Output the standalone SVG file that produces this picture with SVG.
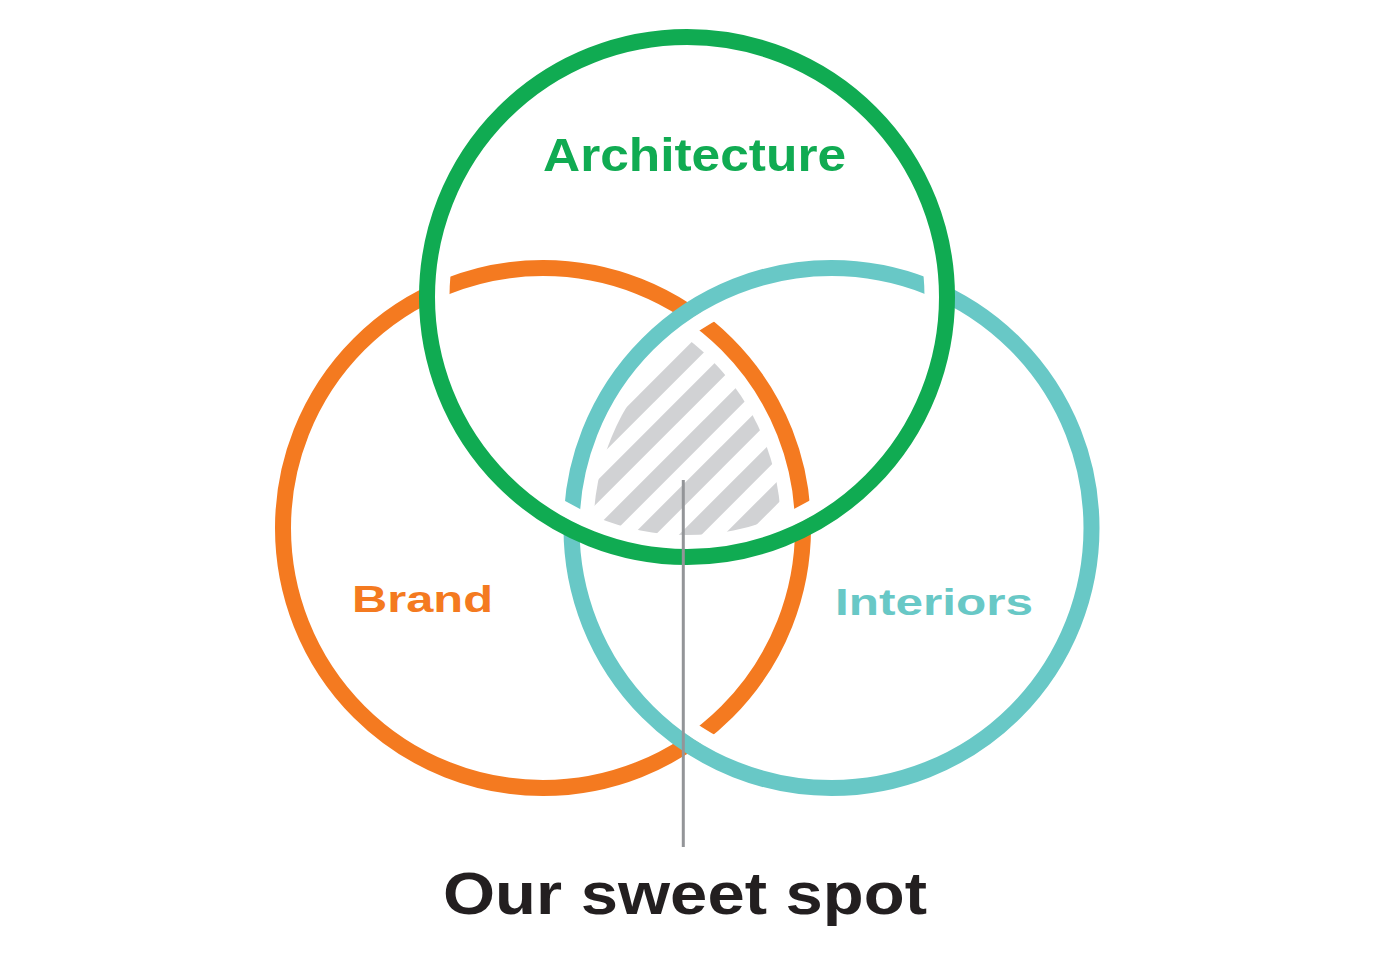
<svg xmlns="http://www.w3.org/2000/svg" width="1374" height="953" viewBox="0 0 1374 953">
  <style>
    .ring { fill: none; stroke-width: 16; }
    .halo { fill: none; stroke: #ffffff; stroke-width: 15; }
    .lbl { font-family: "Liberation Sans", Arial, sans-serif; font-weight: bold; }
    .stripe { stroke: #D1D2D4; stroke-width: 16; fill: none; }
  </style>
  <defs>
    <clipPath id="clipG"><circle cx="687" cy="297" r="238"/></clipPath>
    <clipPath id="clipO"><circle cx="543" cy="528" r="238"/></clipPath>
    <clipPath id="clipT"><circle cx="831.5" cy="528" r="238"/></clipPath>
  </defs>
  <rect width="1374" height="953" fill="#ffffff"/>

  <g id="brand">
    <circle class="ring" cx="543" cy="528" r="260" stroke="#F47A20"/>
    <text class="lbl" x="352" y="612" font-size="37" fill="#F47A20" textLength="141" lengthAdjust="spacingAndGlyphs">Brand</text>
  </g>

  <g id="interiors">
    <circle class="halo" cx="831.5" cy="528" r="245"/>
    <circle class="ring" cx="831.5" cy="528" r="260" stroke="#68C8C6"/>
    <text class="lbl" x="835" y="615" font-size="37" fill="#68C8C6" textLength="198" lengthAdjust="spacingAndGlyphs">Interiors</text>
  </g>

  <g id="architecture">
    <circle class="halo" cx="687" cy="297" r="245"/>
    <circle class="ring" cx="687" cy="297" r="260" stroke="#10AB52"/>
    <text class="lbl" x="543" y="171" font-size="46" fill="#10AB52" textLength="303" lengthAdjust="spacingAndGlyphs">Architecture</text>
  </g>

  <g id="sweet-spot">
    <g clip-path="url(#clipG)">
      <g clip-path="url(#clipO)">
        <g clip-path="url(#clipT)">
          <line class="stripe" x1="550" y1="495" x2="850" y2="195"/>
          <line class="stripe" x1="550" y1="539" x2="850" y2="239"/>
          <line class="stripe" x1="550" y1="585" x2="850" y2="285"/>
          <line class="stripe" x1="550" y1="629" x2="850" y2="329"/>
          <line class="stripe" x1="550" y1="675" x2="850" y2="375"/>
          <line class="stripe" x1="550" y1="720" x2="850" y2="420"/>
        </g>
      </g>
    </g>
    <text class="lbl" x="443" y="914" font-size="60" fill="#231F20" textLength="484" lengthAdjust="spacingAndGlyphs">Our sweet spot</text>
  </g>

  <g id="connectors">
    <line x1="683.3" y1="480" x2="683.3" y2="847" stroke="#939598" stroke-width="3"/>
  </g>
</svg>
